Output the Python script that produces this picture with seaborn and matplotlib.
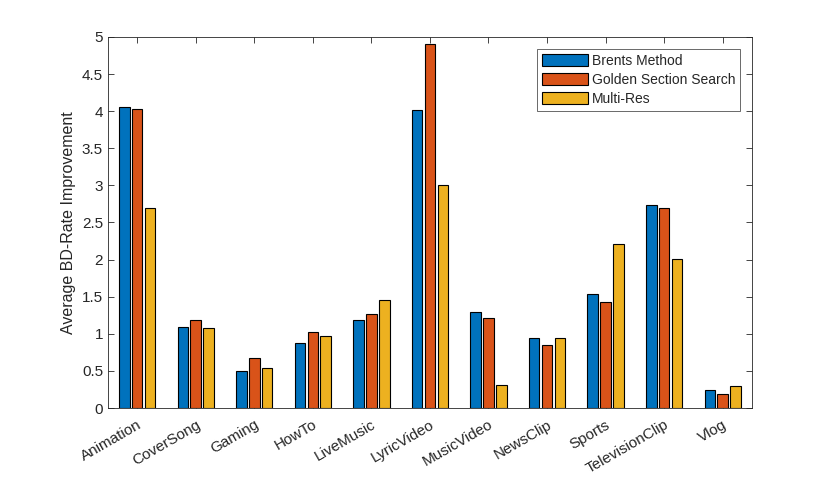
import matplotlib
matplotlib.use("Agg")
import matplotlib.pyplot as plt
import pandas as pd
import seaborn as sns

categories = ["Animation", "CoverSong", "Gaming", "HowTo", "LiveMusic", "LyricVideo",
              "MusicVideo", "NewsClip", "Sports", "TelevisionClip", "Vlog"]
methods = ["Brents Method", "Golden Section Search", "Multi-Res"]
brents = [4.06, 1.09, 0.50, 0.88, 1.19, 4.01, 1.29, 0.94, 1.54, 2.74, 0.24]
golden = [4.03, 1.18, 0.67, 1.03, 1.27, 4.90, 1.21, 0.85, 1.43, 2.70, 0.19]
multires = [2.69, 1.08, 0.54, 0.97, 1.46, 3.01, 0.31, 0.95, 2.21, 2.01, 0.30]
colors = ["#0072BD", "#D95319", "#EDB120"]

df = pd.DataFrame({
    "category": categories * 3,
    "method": [m for m in methods for _ in categories],
    "value": brents + golden + multires,
})

sns.set_theme(style="white")
plt.rcParams["font.family"] = ["Liberation Sans", "DejaVu Sans"]

fig = plt.figure(figsize=(8.3, 4.8), dpi=100)
ax = fig.add_axes([0.130, 0.150, 0.776, 0.773])

sns.barplot(data=df, x="category", y="value", hue="method", palette=colors,
            saturation=1, width=0.66, gap=0.18, edgecolor="black", linewidth=0.8, ax=ax)

ax.set_xlim(-0.5, len(categories) - 0.5)
ax.set_ylim(0, 5)
ax.set_yticks([0, 0.5, 1, 1.5, 2, 2.5, 3, 3.5, 4, 4.5, 5])
ax.set_yticklabels(["0", "0.5", "1", "1.5", "2", "2.5", "3", "3.5", "4", "4.5", "5"])
ax.set_xlabel("")
ax.set_ylabel("Average BD-Rate Improvement", fontsize=11.5, color="#262626")
ax.tick_params(axis="both", direction="in", length=4, width=0.6, colors="#262626",
               labelsize=11, top=True, right=True, bottom=True, left=True)
ax.tick_params(axis="x", pad=7)
plt.setp(ax.get_xticklabels(), rotation=30, ha="right", rotation_mode="anchor")
for s in ax.spines.values():
    s.set_color("#262626")
    s.set_linewidth(0.6)

leg = ax.legend(loc="upper right", bbox_to_anchor=(0.982, 0.968), fontsize=10,
                frameon=True, fancybox=False, edgecolor="#262626",
                handlelength=3.3, handleheight=1.0, handletextpad=0.3,
                labelspacing=0.37, borderpad=0.35, borderaxespad=0.0)
leg.get_frame().set_linewidth(0.6)

fig.savefig("out.png", dpi=100)
